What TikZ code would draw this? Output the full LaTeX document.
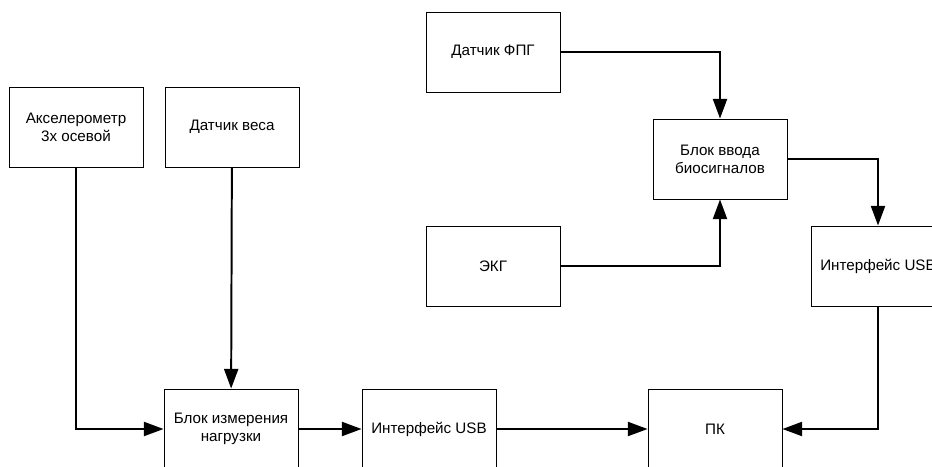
\documentclass[tikz,border=0pt]{standalone}
\usepackage{fontspec}
\setmainfont{Liberation Sans}
\usetikzlibrary{arrows.meta}

\begin{document}
\begin{tikzpicture}[x=0.025cm, y=-0.025cm, -{Triangle[length=14pt, width=10pt]},
    line width=1.4pt,
    block/.style = {draw, -, line width=0.6pt, minimum width=3.35cm, minimum height=2cm,
      align=center, font=\fontsize{10.8}{12.8}\selectfont, inner sep=0pt}]
    \clip (0,0) rectangle (932,466);
    % Nodes

    \node[block] (acc) at (76, 127) {Акселерометр\\3х осевой};
    \node[block] (wgt) at (232, 127) {Датчик веса};

    \node[block] (ppg) at (493, 52) {Датчик ФПГ};
    \node[block] (bio) at (720, 159) {Блок ввода\\биосигналов};
    \node[block] (ecg) at (493, 266) {ЭКГ};
    \node[block] (usb2) at (878, 266) {Интерфейс USB};

    \node[block] (load) at (231, 429) {Блок измерения\\нагрузки};
    \node[block] (usb1) at (429, 429) {Интерфейс USB};
    \node[block] (pc) at (715, 429) {ПК};

    % Edges
    \draw (acc) |- (load);
    \draw (wgt) -- (load);
    \draw (ppg) -| (bio);
    \draw (ecg) -| (bio);
    \draw (bio) -| (usb2);
    \draw (load) -- (usb1);
    \draw (usb1) -- (pc);
    \draw (usb2) |- (pc);

\end{tikzpicture}
\end{document}
